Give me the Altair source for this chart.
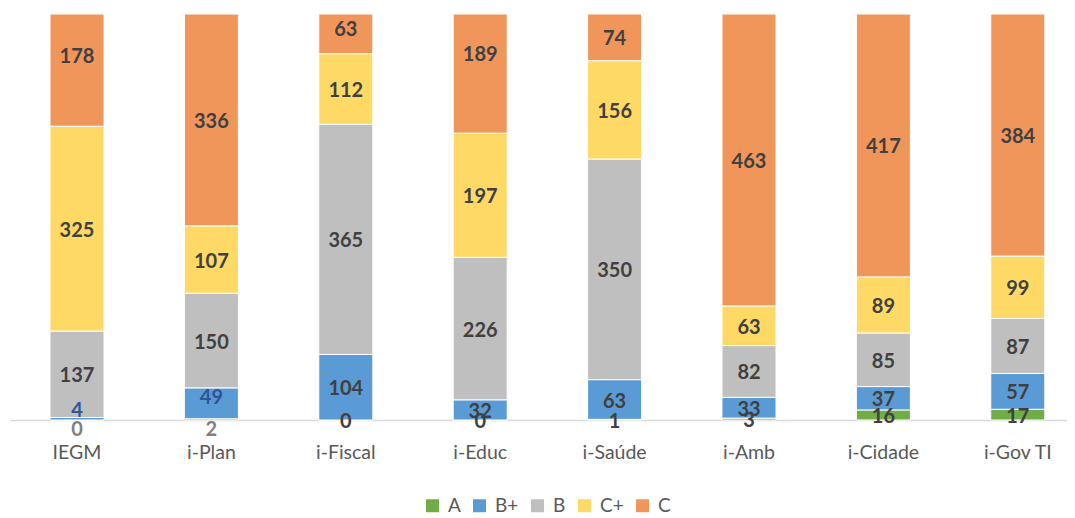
import altair as alt
import pandas as pd

categories = ["IEGM", "i-Plan", "i-Fiscal", "i-Educ", "i-Saúde", "i-Amb", "i-Cidade", "i-Gov TI"]
series = ["A", "B+", "B", "C+", "C"]
a_vals = [0, 2, 0, 0, 1, 3, 16, 17]
bplus_vals = [4, 49, 104, 32, 63, 33, 37, 57]
b_vals = [137, 150, 365, 226, 350, 82, 85, 87]
cplus_vals = [325, 107, 112, 197, 156, 63, 89, 99]
c_vals = [178, 336, 63, 189, 74, 463, 417, 384]

# styling
series_colors = ["#70ad47", "#5b9bd5", "#bfbfbf", "#ffd966", "#f1965a"]
label_default_color = "#404040"
label_color_override = {("IEGM", "A"): "#7f7f7f", ("i-Plan", "A"): "#7f7f7f",
                        ("IEGM", "B+"): "#2f5597", ("i-Plan", "B+"): "#2f5597"}
label_default_dy = 2
label_dy_override = {("IEGM", "A"): 10, ("IEGM", "B+"): -8, ("IEGM", "C"): -13,
                     ("i-Plan", "A"): 11, ("i-Plan", "B+"): -5,
                     ("i-Educ", "C"): -19, ("i-Fiscal", "C"): -4}

all_vals = [a_vals, bplus_vals, b_vals, cplus_vals, c_vals]
rows = []
for i, cat in enumerate(categories):
    for j, s in enumerate(series):
        rows.append({
            "cat": cat, "series": s, "order": j, "value": all_vals[j][i],
            "dy": label_dy_override.get((cat, s), label_default_dy),
            "lcolor": label_color_override.get((cat, s), label_default_color),
        })
df = pd.DataFrame(rows)

total = max(sum(v[i] for v in all_vals) for i in range(len(categories)))

FONT = "Lato"

x_enc = alt.X("cat:N", sort=categories, title=None,
              scale=alt.Scale(paddingInner=0.598, paddingOuter=0.2314, align=0.643),
              axis=alt.Axis(labelAngle=0, ticks=False, tickSize=0, domainColor="#d9d9d9",
                            domainWidth=1.5, labelFont=FONT, labelFontSize=19.5,
                            labelColor="#595959", labelPadding=23, grid=False))
y_scale = alt.Scale(domain=[0, total], nice=False)

base = alt.Chart(df)

bars = base.mark_bar(stroke="white", strokeWidth=1).encode(
    x=x_enc,
    y=alt.Y("value:Q", stack="zero", scale=y_scale, axis=None),
    color=alt.Color("series:N", sort=series,
                    scale=alt.Scale(domain=series, range=series_colors),
                    legend=alt.Legend(title=None, orient="none", legendX=413, legendY=482,
                                      direction="horizontal", symbolType="square",
                                      symbolSize=169, symbolStrokeWidth=0,
                                      labelFont=FONT, labelFontSize=19, labelColor="#595959",
                                      columnPadding=9, labelOffset=6, padding=0)),
    order=alt.Order("order:Q", sort="ascending"),
)

stacked = base.transform_stack(
    stack="value", groupby=["cat"], sort=[alt.SortField("order", order="ascending")],
    as_=["y0", "y1"],
).transform_calculate(mid="(datum.y0 + datum.y1) / 2")

layers = [bars]
for (d, col) in sorted(set(zip(df["dy"], df["lcolor"]))):
    layers.append(
        stacked.transform_filter(
            (alt.datum.dy == int(d)) & (alt.datum.lcolor == col)
        ).mark_text(dy=int(d), font=FONT, fontSize=20, fontWeight="bold", color=col).encode(
            x=alt.X("cat:N", sort=categories),
            y=alt.Y("mid:Q", scale=y_scale, axis=None),
            text=alt.Text("value:Q"),
        )
    )

chart = alt.layer(*layers).properties(
    width=1057, height=406,
    autosize=alt.AutoSizeParams(type="none"),
    padding={"left": 2, "top": 6, "right": 0, "bottom": 96},
).configure_view(stroke=None)

chart.save("out.html", embed_options={"renderer": "svg", "actions": False})
